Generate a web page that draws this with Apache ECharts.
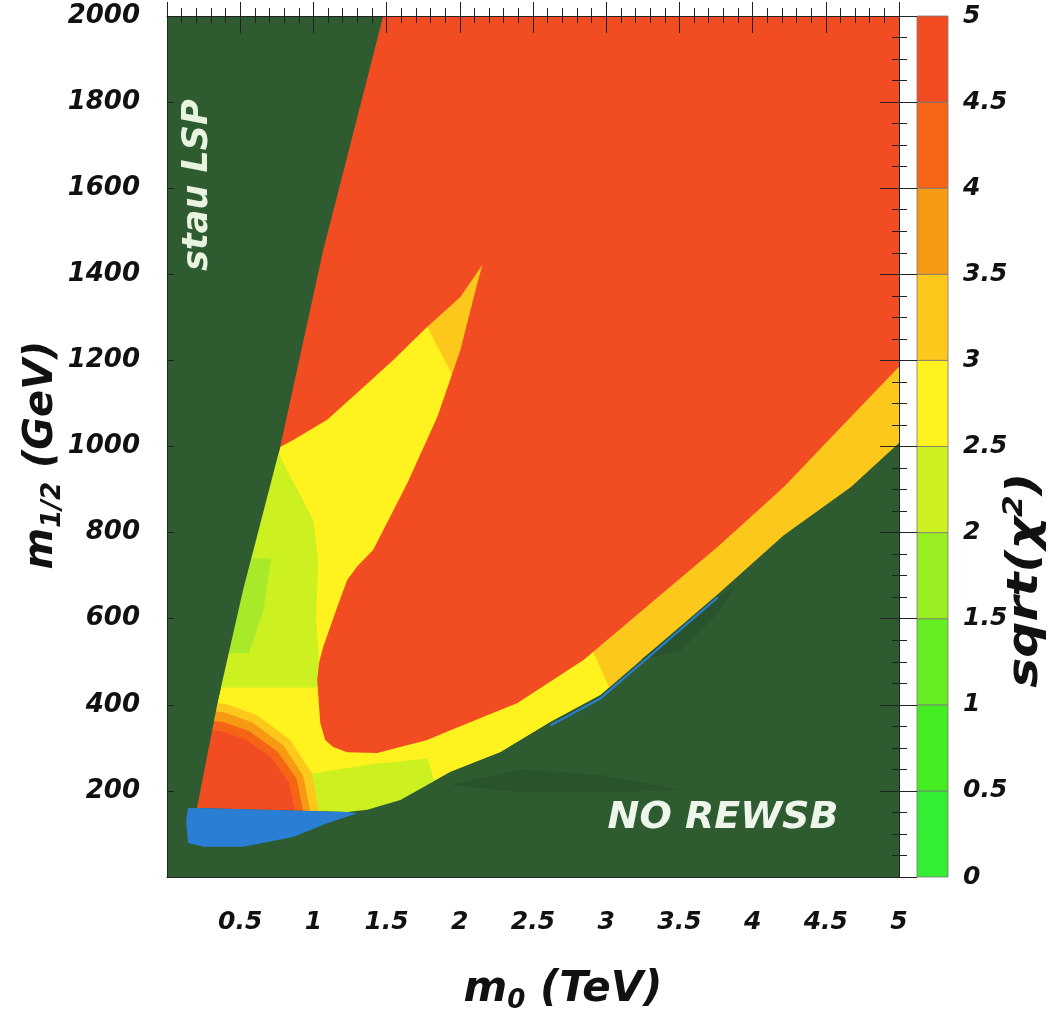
<!DOCTYPE html>
<html>
<head>
<meta charset="utf-8">
<script src="https://cdn.jsdelivr.net/npm/echarts@6/dist/echarts.min.js"></script>
<style>
  html, body { margin: 0; background: #fff; }
  #chart { width: 1058px; height: 1025px; }
</style>
</head>
<body>
<div id="chart"></div>
<script>
// colour scale of sqrt(chi^2)
const levels = [0, 0.5, 1, 1.5, 2, 2.5, 3, 3.5, 4, 4.5, 5];
const levelColors = ['#33ee33', '#44ee22', '#66ee22', '#99ee22', '#ccf020',
                     '#fff21e', '#fcc81c', '#f69a14', '#f66416', '#f24c22'];
const excludedColor = '#2e5b30';
const shadowColor = '#29532c';
const blueColor = '#2a7fd4';

// boundaries, points are [m0 (TeV), m1/2 (GeV)]
const stauEdge = [[1.477, 2000], [1.067, 1456], [0.773, 999], [0.520, 667], [0.349, 411], [0.205, 160]];
const rewsbEdge = [[0.205, 160], [1.231, 151], [1.368, 156], [1.594, 179], [1.936, 244], [2.278, 290],
                   [2.620, 360], [2.962, 423], [3.304, 523], [3.762, 657], [4.213, 794], [4.672, 906], [5, 1008]];
// edge of the sqrt(chi2) > 4.5 zone: band top, funnel ellipse, finger, back to the stau line
const redEdge = [[5, 1185], [4.672, 1069], [4.213, 906], [3.762, 767], [3.304, 636], [2.845, 504],
                 [2.394, 404], [1.936, 341], [1.778, 318], [1.436, 288], [1.231, 290], [1.135, 302],
                 [1.081, 318], [1.047, 358], [1.026, 458], [1.040, 500], [1.067, 534], [1.163, 627],
                 [1.231, 690], [1.300, 722], [1.409, 760], [1.642, 915], [1.847, 1069], [2.004, 1224],
                 [2.120, 1380], [2.155, 1422], [2.004, 1347], [1.778, 1278], [1.546, 1201], [1.320, 1131],
                 [1.094, 1062], [0.862, 1015], [0.773, 999]];
const bandHigh = [[2.833, 580], [5.3, 1500], [5.3, 600], [3.103, 380]];
const fingerTip = [[1.6, 1395], [2.0, 1700], [2.6, 1400], [2.1, 1066]];
const armGreen = [[0.5, 1000], [0.759, 987], [0.821, 945], [0.910, 887], [0.999, 829], [1.033, 736],
                  [1.019, 597], [1.05, 440], [0.3, 440]];
const armPatch = [[0.3, 520], [0.56, 520], [0.66, 620], [0.71, 740], [0.3, 740]];
const bandGreen = [[0.98, 140], [0.98, 240], [1.4, 262], [1.78, 275], [1.9, 140]];
const ring4 = [[1.038, 155], [0.987, 242], [0.840, 319], [0.614, 376], [0.409, 401], [0.19, 410], [0, 410], [0, 140], [1.038, 140]];
const ring3 = [[0.977, 155], [0.930, 235], [0.793, 306], [0.584, 359], [0.394, 382], [0.19, 390], [0, 390], [0, 140], [0.977, 140]];
const ring2 = [[0.929, 155], [0.885, 228], [0.756, 291], [0.560, 339], [0.381, 360], [0.19, 367], [0, 367], [0, 140], [0.929, 140]];
const ring1 = [[0.874, 155], [0.833, 220], [0.714, 277], [0.532, 320], [0.367, 339], [0.19, 345], [0, 345], [0, 140], [0.874, 140]];
const shadowLow = [[1.936, 214], [2.414, 249], [2.962, 237], [3.509, 202], [2.962, 197], [2.414, 197]];
const shadowMid = [[3.235, 504], [3.646, 616], [3.885, 678], [3.782, 620], [3.509, 527]];
const blueRegion = [[0.144, 160], [0.205, 160], [1.231, 151], [1.30, 148], [1.094, 125], [0.862, 93],
                    [0.520, 70], [0.25, 70], [0.144, 79], [0.130, 132]];

const allowed = stauEdge.concat(rewsbEdge, [[5, 2000]]);
const redZone = redEdge.concat([[0.6, 999], [0.6, 2000], [5, 2000]]);
const stauWedge = [[0, 2000]].concat(stauEdge, [[0, 160]]);
const noRewsb = rewsbEdge.concat([[5, 0], [0, 0], [0, 160]]);

// drawn in this order, later on top
const regions = [
  { pts: allowed, color: levelColors[5] },
  { pts: bandHigh, color: levelColors[6] },
  { pts: fingerTip, color: levelColors[6] },
  { pts: armGreen, color: levelColors[4] },
  { pts: armPatch, color: '#a8ea2a' },
  { pts: bandGreen, color: levelColors[4] },
  { pts: ring4, color: levelColors[6] },
  { pts: ring3, color: levelColors[7] },
  { pts: ring2, color: levelColors[8] },
  { pts: ring1, color: levelColors[9] },
  { pts: redZone, color: levelColors[9] },
  { pts: stauWedge, color: excludedColor },
  { pts: noRewsb, color: excludedColor },
  { pts: shadowLow, color: shadowColor },
  { pts: shadowMid, color: shadowColor },
  { pts: blueRegion, color: blueColor }
];

const myChart = echarts.init(document.getElementById('chart'));

const tickFont = { fontFamily: 'DejaVu Sans', fontWeight: 'bold', fontStyle: 'italic', color: '#111' };
const edge = { show: true, onZero: false, lineStyle: { color: '#222', width: 1 } };
const noLine = { show: false, onZero: false };
const dark = { color: '#222' };
const bigFont = 'italic bold 42px "DejaVu Sans"';
const subFont = 'italic bold 26px "DejaVu Sans"';
const plotRect = { left: 167, top: 16, width: 732, height: 861 };
const noLabel = { show: false };
const noSplit = { show: false };

const option = {
  animation: false,
  backgroundColor: '#fff',
  grid: [
    Object.assign({ show: true, backgroundColor: excludedColor, borderWidth: 0 }, plotRect),
    { left: 917, top: 16, width: 31, height: 861 },
    Object.assign({}, plotRect),   // outer half of the frame ticks
    Object.assign({}, plotRect)    // inner half of the frame ticks
  ],
  xAxis: [
    { gridIndex: 0, type: 'value', min: 0, max: 5, interval: 0.5, position: 'bottom',
      axisLine: edge, axisTick: { show: false }, splitLine: noSplit,
      axisLabel: Object.assign({ fontSize: 25, margin: 33, formatter: v => (v === 0 ? '' : String(v)) }, tickFont) },
    { gridIndex: 1, type: 'value', min: 0, max: 1, show: false },
    { gridIndex: 2, type: 'value', min: 0, max: 5, interval: 0.5, position: 'top', z: 10,
      axisLine: edge, axisTick: { inside: false, length: 14, lineStyle: dark },
      minorTick: { show: true, splitNumber: 5, length: 8, lineStyle: dark },
      axisLabel: noLabel, splitLine: noSplit },
    { gridIndex: 3, type: 'value', min: 0, max: 5, interval: 0.5, position: 'top', z: 10,
      axisLine: noLine, axisTick: { inside: true, length: 17, lineStyle: dark },
      minorTick: { show: true, splitNumber: 5, length: 7, lineStyle: dark },
      axisLabel: noLabel, splitLine: noSplit }
  ],
  yAxis: [
    { gridIndex: 0, type: 'value', min: 0, max: 2000, interval: 200, position: 'left', z: 10,
      axisLine: edge, axisTick: { inside: true, length: 7, lineStyle: dark }, splitLine: noSplit,
      axisLabel: Object.assign({ fontSize: 26, margin: 27, formatter: v => (v === 0 ? '' : String(v)) }, tickFont) },
    { gridIndex: 1, type: 'value', min: 0, max: 5, interval: 0.5, position: 'right',
      axisLine: noLine, axisTick: { show: false }, splitLine: noSplit,
      axisLabel: Object.assign({ fontSize: 25, margin: 15 }, tickFont) },
    { gridIndex: 2, type: 'value', min: 0, max: 2000, interval: 200, position: 'right', z: 10,
      axisLine: edge, axisTick: { inside: false, length: 18, lineStyle: dark },
      minorTick: { show: true, splitNumber: 4, length: 8, lineStyle: dark },
      axisLabel: noLabel, splitLine: noSplit },
    { gridIndex: 3, type: 'value', min: 0, max: 2000, interval: 200, position: 'right', z: 10,
      axisLine: noLine, axisTick: { inside: true, length: 19, lineStyle: dark },
      minorTick: { show: true, splitNumber: 4, length: 7, lineStyle: dark },
      axisLabel: noLabel, splitLine: noSplit }
  ],
  series: [
    {
      type: 'custom',
      xAxisIndex: 0,
      yAxisIndex: 0,
      clip: true,
      silent: true,
      data: regions.map(() => [0, 0]),
      renderItem: (params, api) => {
        const r = regions[params.dataIndex];
        return {
          type: 'polygon',
          z2: params.dataIndex,
          shape: { points: r.pts.map(p => api.coord(p)) },
          style: { fill: r.color }
        };
      }
    },
    {
      // thin blue fringe under the focus-point band
      type: 'custom',
      xAxisIndex: 0,
      yAxisIndex: 0,
      clip: true,
      silent: true,
      z: 3,
      data: [[0, 0]],
      renderItem: (params, api) => ({
        type: 'polyline',
        shape: { points: rewsbEdge.slice(6, 10).map(p => api.coord([p[0], p[1] - 8])) },
        style: { stroke: blueColor, lineWidth: 2, fill: null }
      })
    },
    {
      // colour bar
      type: 'custom',
      xAxisIndex: 1,
      yAxisIndex: 1,
      silent: true,
      data: levelColors.map((c, i) => [levels[i], levels[i + 1]]),
      renderItem: (params, api) => {
        const lo = api.coord([0, api.value(0)]);
        const hi = api.coord([1, api.value(1)]);
        return {
          type: 'rect',
          shape: { x: lo[0], y: hi[1], width: hi[0] - lo[0], height: lo[1] - hi[1] },
          style: { fill: levelColors[params.dataIndex], stroke: '#777', lineWidth: 0.8 }
        };
      }
    }
  ],
  graphic: [
    { type: 'text', x: 563, y: 990, z: 100,
      style: { text: '{a|m}{s|0}{a| (TeV)}', textAlign: 'center', textVerticalAlign: 'middle', fill: '#111',
               rich: { a: { font: bigFont, fill: '#111' }, s: { font: subFont, fill: '#111', padding: [22, 0, 0, 0] } } } },
    { type: 'text', x: 42, y: 455, rotation: Math.PI / 2, z: 100,
      style: { text: '{a|m}{s|1/2}{a| (GeV)}', textAlign: 'center', textVerticalAlign: 'middle', fill: '#111',
               rich: { a: { font: 'italic bold 40px "DejaVu Sans"', fill: '#111' }, s: { font: subFont, fill: '#111', padding: [22, 0, 0, 0] } } } },
    { type: 'text', x: 1026, y: 580, rotation: Math.PI / 2, scaleX: 1.2, z: 100,
      style: { text: '{a|sqrt(χ}{p|2}{a|)}', textAlign: 'center', textVerticalAlign: 'middle', fill: '#111',
               rich: { a: { font: bigFont, fill: '#111' }, p: { font: subFont, fill: '#111', padding: [0, 0, 22, 0] } } } },
    { type: 'text', x: 198, y: 185, rotation: Math.PI / 2, z: 100,
      style: { text: 'stau LSP', font: 'italic bold 35px "DejaVu Sans"', fill: '#e8f3e0',
               textAlign: 'center', textVerticalAlign: 'middle' } },
    { type: 'text', x: 723, y: 818, z: 100,
      style: { text: 'NO REWSB', font: 'italic bold 38px "DejaVu Sans"', fill: '#eef5ea',
               textAlign: 'center', textVerticalAlign: 'middle' } }
  ]
};

myChart.setOption(option);
</script>
</body>
</html>
